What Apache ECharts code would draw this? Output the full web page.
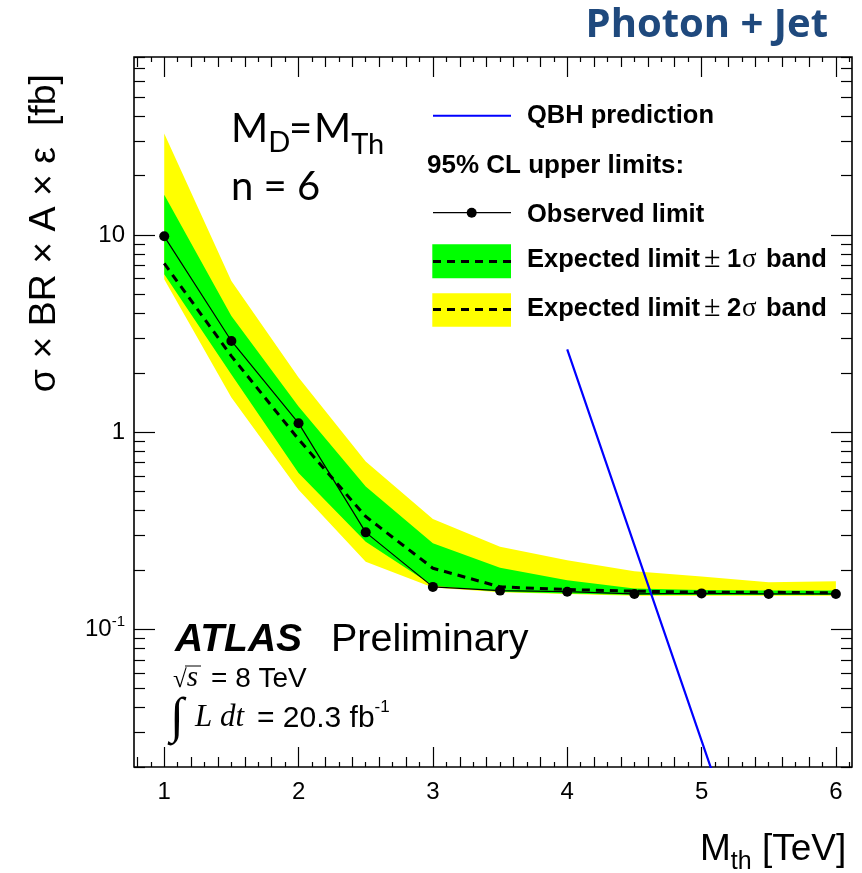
<!DOCTYPE html>
<html>
<head>
<meta charset="utf-8">
<script src="https://cdn.jsdelivr.net/npm/echarts@6/dist/echarts.min.js"></script>
<style>
  html, body { margin: 0; padding: 0; background: #fff; }
  #chart { width: 862px; height: 873px; }
</style>
</head>
<body>
<div id="chart"></div>
<script>
// values (cross section limits in fb vs M_th in TeV)
var massTeV   = [1, 1.5, 2, 2.5, 3, 3.5, 4, 4.5, 5, 5.5, 6];
var observed  = [9.85, 2.90, 1.11, 0.31, 0.164, 0.157, 0.155, 0.151, 0.152, 0.151, 0.151];
var expected  = [7.17, 2.43, 0.92, 0.373, 0.204, 0.164, 0.159, 0.156, 0.154, 0.154, 0.153];
var band1Up   = [16.0, 3.88, 1.35, 0.53, 0.273, 0.205, 0.177, 0.161, 0.158, 0.157, 0.157];
var band1Down = [6.33, 1.96, 0.62, 0.278, 0.166, 0.155, 0.152, 0.149, 0.149, 0.149, 0.149];
var band2Up   = [32.7, 5.85, 1.89, 0.71, 0.362, 0.262, 0.224, 0.197, 0.185, 0.173, 0.175];
var band2Down = [5.97, 1.50, 0.51, 0.22, 0.163, 0.154, 0.151, 0.148, 0.148, 0.148, 0.148];

var qbhMass = [4.0, 4.5, 5.0, 5.5];
var qbhXsec = [2.63, 0.267, 0.0272, 0.00277];

var xLabels = [1, 2, 3, 4, 5, 6];
var yLabels = [0.1, 1, 10];

// axis ranges
var X_MIN = 0.775, X_MAX = 6.12;
var Y_MIN = 0.02, Y_MAX = 80;

// tick positions (root style: 1 / 0.2 / 0.1 on x, decades + 2..9 on y)
var xMidTicks = [], xSmallTicks = [];
for (var k = 8; k <= 61; k++) {
  if (k % 10 === 0) continue;
  if (k % 2 === 0) xMidTicks.push(k / 10); else xSmallTicks.push(k / 10);
}
var yMinorTicks = [];
[0.01, 0.1, 1, 10].forEach(function (d) {
  for (var m = 2; m <= 9; m++) {
    var v = +(m * d).toPrecision(3);
    if (v >= Y_MIN && v <= Y_MAX) yMinorTicks.push(v);
  }
});

var SANS = '"Liberation Sans", Arial, Helvetica, sans-serif';
var SERIF = '"Liberation Serif", "DejaVu Serif", serif';

function xAxisOf(pos, ticks, len, labels) {
  return {
    type: 'value', position: pos, min: X_MIN, max: X_MAX,
    axisLine: { show: false, onZero: false },
    splitLine: { show: false },
    axisTick: { show: true, inside: true, length: len, customValues: ticks,
                lineStyle: { color: '#000', width: 1.2 } },
    axisLabel: labels ? {
      show: true, customValues: labels, margin: 13,
      fontSize: 24, fontFamily: SANS, color: '#000'
    } : { show: false }
  };
}

function yAxisOf(pos, ticks, len, labels) {
  return {
    type: 'log', logBase: 10, position: pos, min: Y_MIN, max: Y_MAX,
    axisLine: { show: false, onZero: false },
    splitLine: { show: false },
    axisTick: { show: true, inside: true, length: len, customValues: ticks,
                lineStyle: { color: '#000', width: 1.2 } },
    axisLabel: labels ? {
      show: true, customValues: labels, margin: 9,
      fontSize: 24, fontFamily: SANS, color: '#000',
      formatter: function (v) {
        if (Math.abs(v - 0.1) < 1e-9) return '{n|10}{e|-1}';
        return '{n|' + v + '}';
      },
      rich: {
        n: { fontSize: 24, fontFamily: SANS, color: '#000' },
        e: { fontSize: 15, fontFamily: SANS, color: '#000', padding: [0, 0, 14, 0] }
      }
    } : { show: false }
  };
}

function pairs(xs, ys) {
  return xs.map(function (x, i) { return [x, ys[i]]; });
}

function bandSeries(lo, hi, color, z) {
  return {
    type: 'custom', coordinateSystem: 'cartesian2d', silent: true, z: z,
    data: massTeV.map(function (m, i) { return [m, lo[i], hi[i]]; }),
    encode: { x: 0, y: [1, 2] },
    renderItem: function (params, api) {
      if (params.dataIndex !== 0) return;
      var pts = [];
      for (var i = 0; i < massTeV.length; i++) pts.push(api.coord([massTeV[i], hi[i]]));
      for (var j = massTeV.length - 1; j >= 0; j--) pts.push(api.coord([massTeV[j], lo[j]]));
      return { type: 'polygon', shape: { points: pts }, style: { fill: color, stroke: null } };
    }
  };
}

// text runs built from pieces, placed on a common baseline
var measureCtx = document.createElement('canvas').getContext('2d');
function textRun(x, baseline, pieces, color) {
  var cx = x, out = [];
  pieces.forEach(function (p) {
    measureCtx.font = p.font;
    var w = measureCtx.measureText(p.t).width;
    var size = parseFloat(p.font.match(/(\d+(\.\d+)?)px/)[1]);
    if (p.x != null) cx = p.x;
    out.push({
      type: 'text', x: cx, y: baseline + (p.dy || 0) - 0.32 * size, silent: true, z: 100,
      style: { text: p.t, font: p.font, fill: color || '#000',
               textAlign: 'left', textVerticalAlign: 'middle', align: 'left', verticalAlign: 'middle' }
    });
    cx += w;
  });
  return out;
}

var graphics = [];
function add(arr) { graphics = graphics.concat(arr); }

// header
add([{
  type: 'text', x: 828, y: 38 - 0.32 * 40, silent: true,
  style: { text: 'Photon + Jet', font: 'bold 40px "Open Sans", Lato, sans-serif', fill: '#1F497D',
           textAlign: 'right', textVerticalAlign: 'middle', align: 'right', verticalAlign: 'middle' }
}]);

// y axis title
add([{
  type: 'text', x: 45, y: 74, rotation: Math.PI / 2, silent: true,
  style: { text: 'σ × BR × A × ε  [fb]', font: '37.5px ' + SANS, fill: '#000',
           textAlign: 'right', textVerticalAlign: 'middle', align: 'right', verticalAlign: 'middle' }
}]);

// x axis title
add(textRun(700, 862, [
  { t: 'M', font: '37px ' + SANS },
  { t: 'th', font: '25px ' + SANS, dy: 8 },
  { t: ' [TeV]', font: '37px ' + SANS }
]));

// model text
var CAL = 'Lato, "Open Sans", sans-serif';
add(textRun(231, 142, [
  { t: 'M', font: '40px ' + CAL },
  { t: 'D', font: '29px ' + CAL, dy: 10 },
  { t: '=', font: '40px ' + CAL, x: 289 },
  { t: 'M', font: '40px ' + CAL, x: 314 },
  { t: 'Th', font: '29px ' + CAL, dy: 12 }
]));
add(textRun(231, 200, [{ t: 'n = 6', font: '40px ' + CAL }]));

// ATLAS label
add(textRun(175, 653, [
  { t: 'ATLAS', font: 'italic bold 39px ' + SANS },
  { t: 'Preliminary', font: '39.5px ' + SANS, x: 331 }
]));
add(textRun(173, 688, [
  { t: '√', font: '25px ' + SERIF },
  { t: 's', font: 'italic 29px ' + SERIF },
  { t: '= 8 TeV', font: '28px ' + SANS, x: 211 }
]));
add([{ type: 'line', silent: true, shape: { x1: 185, y1: 666, x2: 201, y2: 666 },
       style: { stroke: '#000', lineWidth: 1 } }]);
add(textRun(170, 728, [
  { t: '∫', font: '50px ' + SERIF, dy: 7 },
  { t: 'L', font: 'italic 31px ' + SERIF, x: 195 },
  { t: ' dt', font: 'italic 31px ' + SERIF },
  { t: '= 20.3 fb', font: '30px ' + SANS, x: 257 },
  { t: '-1', font: '17px ' + SANS, dy: -15 }
]));

// legend
var LX1 = 433, LX2 = 511, LT = 527;
var BOLD = 'bold 25.5px ' + SANS;
add([
  { type: 'line', silent: true, shape: { x1: LX1, y1: 115.7, x2: LX2, y2: 115.7 },
    style: { stroke: '#0000ff', lineWidth: 2 } },
  { type: 'line', silent: true, shape: { x1: LX1, y1: 212.7, x2: LX2, y2: 212.7 },
    style: { stroke: '#000', lineWidth: 1.2 } },
  { type: 'circle', silent: true, shape: { cx: 471.7, cy: 212.7, r: 5 }, style: { fill: '#000' } },
  { type: 'rect', silent: true, shape: { x: 432.3, y: 244.3, width: 78.7, height: 34 },
    style: { fill: '#00ff00' } },
  { type: 'line', silent: true, shape: { x1: LX1, y1: 261.5, x2: LX2, y2: 261.5 },
    style: { stroke: '#000', lineWidth: 3, lineDash: [8, 6] } },
  { type: 'rect', silent: true, shape: { x: 432.3, y: 293.3, width: 78.7, height: 33.4 },
    style: { fill: '#ffff00' } },
  { type: 'line', silent: true, shape: { x1: LX1, y1: 309.5, x2: LX2, y2: 309.5 },
    style: { stroke: '#000', lineWidth: 3, lineDash: [8, 6] } }
]);
add(textRun(LT, 124, [{ t: 'QBH prediction', font: BOLD }]));
add(textRun(427, 174.3, [{ t: '95% CL upper limits:', font: 'bold 26px ' + SANS }]));
add(textRun(LT, 222.7, [{ t: 'Observed limit', font: BOLD }]));
[['1', 268.3], ['2', 317.3]].forEach(function (r) {
  add(textRun(LT, r[1], [
    { t: 'Expected limit', font: BOLD },
    { t: '±', font: '30px ' + SERIF, x: 704 },
    { t: r[0], font: BOLD, x: 727 },
    { t: 'σ', font: '27px ' + SERIF, x: 742 },
    { t: 'band', font: BOLD, x: 766 }
  ]));
});

var chart = echarts.init(document.getElementById('chart'), null, { renderer: 'canvas' });
chart.setOption({
  animation: false,
  backgroundColor: '#ffffff',
  grid: { left: 134, top: 57, right: 10, bottom: 106, show: true,
          borderColor: '#000', borderWidth: 1.6, backgroundColor: 'transparent' },
  xAxis: [
    xAxisOf('bottom', xLabels, 20, xLabels),
    xAxisOf('bottom', xMidTicks, 10),
    xAxisOf('bottom', xSmallTicks, 5),
    xAxisOf('top', xLabels, 20),
    xAxisOf('top', xMidTicks, 10),
    xAxisOf('top', xSmallTicks, 5)
  ],
  yAxis: [
    yAxisOf('left', yLabels, 21, yLabels),
    yAxisOf('left', yMinorTicks, 11),
    yAxisOf('right', yLabels, 21),
    yAxisOf('right', yMinorTicks, 11)
  ],
  series: [
    bandSeries(band2Down, band2Up, '#ffff00', 1),
    bandSeries(band1Down, band1Up, '#00ff00', 2),
    {
      name: 'Expected', type: 'line', z: 3, silent: true, showSymbol: false,
      data: pairs(massTeV, expected),
      lineStyle: { color: '#000', width: 3, type: [8, 6] }
    },
    {
      name: 'Observed', type: 'line', z: 4, silent: true,
      symbol: 'circle', symbolSize: 10,
      data: pairs(massTeV, observed),
      itemStyle: { color: '#000' },
      lineStyle: { color: '#000', width: 1.2 }
    },
    {
      name: 'QBH prediction', type: 'line', z: 5, silent: true, showSymbol: false, clip: true,
      data: pairs(qbhMass, qbhXsec),
      lineStyle: { color: '#0000ff', width: 2.2 }
    }
  ],
  graphic: graphics
});
</script>
</body>
</html>
